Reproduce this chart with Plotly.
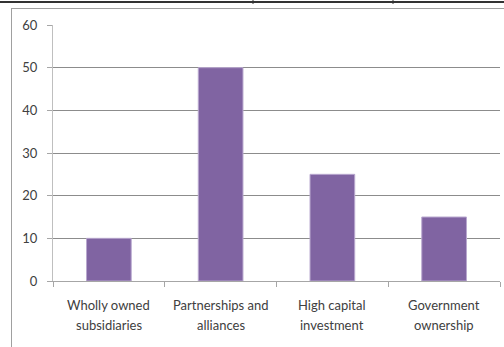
import plotly.graph_objects as go

categories = ["Wholly owned subsidiaries", "Partnerships and alliances",
              "High capital investment", "Government ownership"]
label_line1 = ["Wholly owned", "Partnerships and", "High capital", "Government"]
label_line2 = ["subsidiaries", "alliances", "investment", "ownership"]
values = [10, 50, 25, 15]
y_ticks = [0, 10, 20, 30, 40, 50, 60]

W, H = 504, 347
ml, mr, mt, mb = 53, 4, 25, 66
pw, ph = W - ml - mr, H - mt - mb

def px(x):
    return (x - ml) / pw

def py(y):
    return (H - mb - y) / ph

fig = go.Figure(go.Bar(
    x=categories, y=values,
    marker=dict(color="#8064A2", line=dict(color="#B9A8CF", width=1)),
    width=0.4,
))

font = dict(family="Lato, Open Sans, sans-serif", size=13, color="#404040")

annotations = []
for c, l1, l2 in zip(categories, label_line1, label_line2):
    annotations.append(dict(x=c, xref="x", y=py(305), yref="paper", text=l1,
                            showarrow=False, font=font, yanchor="middle"))
    annotations.append(dict(x=c, xref="x", y=py(325), yref="paper", text=l2,
                            showarrow=False, font=font, yanchor="middle"))

fig.update_layout(
    width=W, height=H,
    margin=dict(l=ml, r=mr, t=mt, b=mb),
    paper_bgcolor="white", plot_bgcolor="white",
    showlegend=False,
    font=font,
    xaxis=dict(showline=True, linecolor="#A6A6A6", linewidth=1,
               ticks="outside", tickson="boundaries", ticklen=5, tickcolor="#A6A6A6",
               showgrid=False, showticklabels=False),
    yaxis=dict(range=[0, 60], tickvals=y_ticks, showline=True, linecolor="#BFBFBF",
               linewidth=1, ticks="outside", ticklen=5, tickcolor="#A6A6A6",
               gridcolor="#8C8C8C", gridwidth=1, zeroline=False, tickfont=font,
               ticklabelstandoff=7),
    annotations=annotations,
    shapes=[
        dict(type="line", xref="paper", yref="paper", x0=px(11), x1=px(504), y0=py(8.5), y1=py(8.5),
             line=dict(color="#A0A0A0", width=1)),
        dict(type="line", xref="paper", yref="paper", x0=px(11.5), x1=px(11.5), y0=py(8), y1=py(347),
             line=dict(color="#A0A0A0", width=1)),
        dict(type="line", xref="paper", yref="paper", x0=px(0), x1=px(504), y0=py(2), y1=py(2),
             line=dict(color="#333333", width=2)),
        dict(type="line", xref="paper", yref="paper", x0=px(253), x1=px(253), y0=py(0), y1=py(4),
             line=dict(color="#333333", width=1)),
        dict(type="line", xref="paper", yref="paper", x0=px(393), x1=px(393), y0=py(0), y1=py(4),
             line=dict(color="#333333", width=1)),
    ],
)

fig.write_html("out.html", config={"displayModeBar": False},
               post_script="document.body.style.margin='0';document.body.style.overflow='hidden';")
